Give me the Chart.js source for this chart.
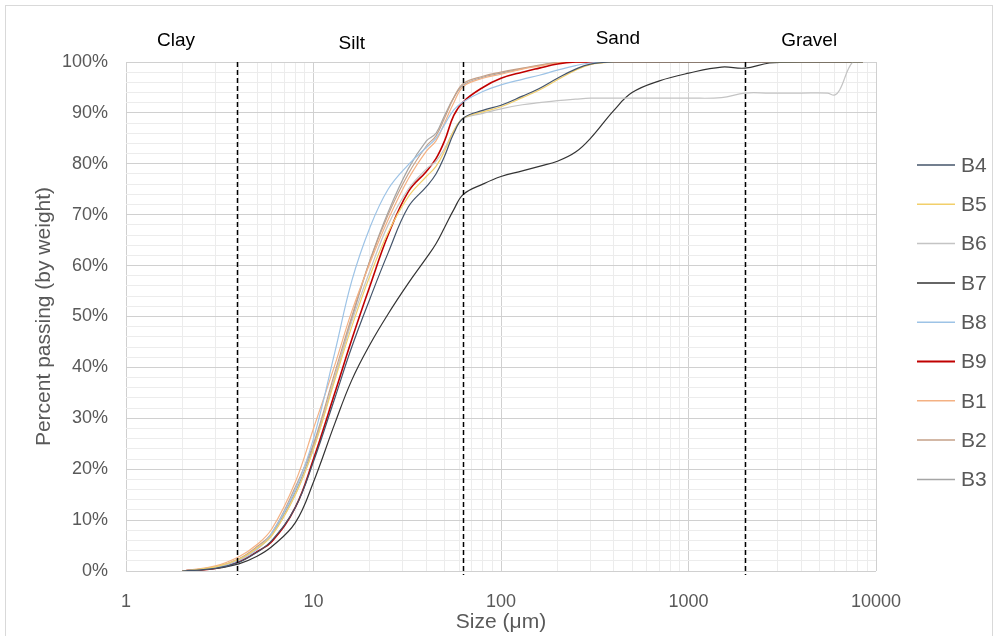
<!DOCTYPE html>
<html>
<head>
<meta charset="utf-8">
<script src="https://cdn.jsdelivr.net/npm/chart.js@4.4.0/dist/chart.umd.min.js"></script>
<style>
  html, body { margin: 0; padding: 0; background: #fff; }
  #wrap { width: 998px; height: 636px; position: relative; }
</style>
</head>
<body>
<div id="wrap"><canvas id="psdChart"></canvas></div>
<script>
// grain size (um) shared by all samples
const sizes = [2, 3, 4, 5, 6, 8, 10, 13, 16, 20, 25, 32, 40, 45, 50, 56, 63, 80, 100, 130, 160, 200, 250, 300, 400, 500, 700, 1000, 1500, 2000, 2700, 4000, 5500, 6000, 6400, 7500, 8500];

// percent passing for each sample
const b4 = [0, 0.5, 1.7, 3.7, 6, 12.5, 21.5, 34, 44, 53.5, 62.5, 71.5, 75.5, 78, 81.5, 86, 89, 90.5, 91.5, 93.3, 94.8, 96.8, 98.6, 99.6, 100, 100, 100, 100, 100, 100, 100, 100, 100, 100, 100, 100, 100];
const b5 = [0, 0.8, 2.3, 4.5, 7, 15, 24, 37.5, 48, 58, 66.5, 73.5, 77.5, 79.5, 82.5, 86.5, 89, 90.2, 91.2, 93, 94.5, 96.5, 98.4, 99.5, 100, 100, 100, 100, 100, 100, 100, 100, 100, 100, 100, 100, 100];
const b6 = [0, 0.7, 2.2, 4.4, 7, 15, 24, 38, 49, 59, 68, 75, 79, 80.5, 83, 86.5, 88.9, 89.9, 90.8, 91.6, 92, 92.4, 92.7, 92.9, 92.9, 92.9, 92.9, 92.9, 93, 93.9, 93.9, 93.9, 93.9, 93.5, 94.5, 100, 100];
const b7 = [0, 0.5, 1.4, 2.9, 4.8, 9.5, 17.5, 29, 37.5, 44.5, 50.5, 56.5, 61.5, 64.3, 67.5, 71, 74, 76, 77.5, 78.6, 79.5, 80.5, 82.3, 85, 90.5, 94, 96.3, 97.8, 99, 98.8, 99.8, 100, 100, 100, 100, 100, 100];
const b8 = [0, 0.6, 2, 4.2, 7.5, 16, 26, 43, 57, 67.5, 75, 79.8, 83.2, 85, 87.7, 90.6, 92.2, 94.2, 95.5, 96.6, 97.4, 98.4, 99.3, 99.8, 100, 100, 100, 100, 100, 100, 100, 100, 100, 100, 100, 100, 100];
const b9 = [0, 0.5, 1.8, 3.8, 5.8, 12.5, 22, 35, 45.5, 56, 66, 74.5, 78.5, 81, 84.5, 89.5, 92.2, 95, 96.8, 98, 98.8, 99.6, 100, 100, 100, 100, 100, 100, 100, 100, 100, 100, 100, 100, 100, 100, 100];
const b1 = [0, 1, 2.8, 5.2, 8.3, 17.5, 28, 40.5, 51, 60.5, 69, 77, 82.5, 84.5, 88, 92, 95.2, 96.8, 97.6, 98.6, 99.2, 99.8, 100, 100, 100, 100, 100, 100, 100, 100, 100, 100, 100, 100, 100, 100, 100];
const b2 = [0, 0.8, 2.4, 4.8, 7.5, 16.5, 25, 39, 50, 61, 70, 78, 83.5, 85.5, 89, 93, 95.8, 97.2, 98, 98.8, 99.4, 99.9, 100, 100, 100, 100, 100, 100, 100, 100, 100, 100, 100, 100, 100, 100, 100];
const b3 = [0, 0.7, 2.2, 4.5, 7.2, 15.5, 24.5, 38, 49.5, 61, 70.5, 79, 84.5, 86, 89.5, 93, 95.5, 97, 97.8, 98.7, 99.3, 99.9, 100, 100, 100, 100, 100, 100, 100, 100, 100, 100, 100, 100, 100, 100, 100];

const seriesNames = ['B4', 'B5', 'B6', 'B7', 'B8', 'B9', 'B1', 'B2', 'B3'];
const seriesValues = [b4, b5, b6, b7, b8, b9, b1, b2, b3];
const seriesColors = ['#44546a', '#f2cf6a', '#c4c4c4', '#333333', '#9dc3e6', '#c00000', '#f4b183', '#c4a088', '#a5a5a5'];

// class boundaries (um) and zone names
const boundaries = [3.9, 63, 2000];
const zoneNames = ['Clay', 'Silt', 'Sand', 'Gravel'];
const zoneLabelAt = [1.85, 16, 420, 4400];

const xMajor = [1, 10, 100, 1000, 10000];
const yTicks = [0, 10, 20, 30, 40, 50, 60, 70, 80, 90, 100];

const FONT = "'Liberation Sans', Arial, sans-serif";

const datasets = seriesNames.map((name, i) => ({
    label: name,
    data: sizes.map((s, k) => ({ x: s, y: seriesValues[i][k] })),
    borderColor: seriesColors[i],
    backgroundColor: seriesColors[i],
    borderWidth: name === 'B9' ? 1.6 : 1.2,
    pointRadius: 0,
    tension: 0.4,
    fill: false
}));

const extras = {
    id: 'extras',
    afterDatasetsDraw(chart) {
        const ctx = chart.ctx;
        const xs = chart.scales.x;
        const area = chart.chartArea;

        // dashed boundaries
        ctx.save();
        ctx.strokeStyle = '#000';
        ctx.lineWidth = 1.5;
        ctx.setLineDash([5, 3]);
        boundaries.forEach(b => {
            const px = Math.round(xs.getPixelForValue(b)) + 0.5;
            ctx.beginPath();
            ctx.moveTo(px, area.top);
            ctx.lineTo(px, area.bottom + 4);
            ctx.stroke();
        });
        ctx.restore();

        // zone names
        ctx.save();
        ctx.fillStyle = '#000';
        ctx.font = "19px " + FONT;
        ctx.textAlign = 'center';
        ctx.textBaseline = 'middle';
        const zoneY = [41, 44, 39, 41];
        zoneNames.forEach((z, i) => {
            ctx.fillText(z, xs.getPixelForValue(zoneLabelAt[i]), zoneY[i]);
        });
        ctx.restore();

        // legend
        ctx.save();
        ctx.font = "21px " + FONT;
        ctx.textBaseline = 'middle';
        ctx.fillStyle = '#595959';
        seriesNames.forEach((n, i) => {
            const y = 165 + i * 39.3;
            ctx.strokeStyle = seriesColors[i];
            ctx.lineWidth = n === 'B9' ? 2 : 1.5;
            ctx.beginPath();
            ctx.moveTo(917, y);
            ctx.lineTo(955, y);
            ctx.stroke();
            ctx.fillText(n, 961, y + 1);
        });
        ctx.restore();
    },
    afterDraw(chart) {
        const ctx = chart.ctx;
        ctx.save();
        ctx.strokeStyle = '#d9d9d9';
        ctx.lineWidth = 1;
        ctx.strokeRect(5.5, 5.5, 987, 640);
        ctx.restore();
    }
};

new Chart(document.getElementById('psdChart'), {
    type: 'line',
    data: { datasets },
    plugins: [extras],
    options: {
        responsive: true,
        maintainAspectRatio: false,
        animation: false,
        layout: { padding: { left: 0, top: 62, right: 122, bottom: 0 } },
        plugins: {
            legend: { display: false },
            tooltip: { enabled: false }
        },
        scales: {
            x: {
                type: 'logarithmic',
                min: 1,
                max: 10000,
                afterFit(scale) { scale.height = 65; },
                afterBuildTicks(scale) {
                    const t = [];
                    for (let p = 1; p < 10000; p *= 10) {
                        for (let m = 1; m < 10; m++) t.push({ value: m * p });
                    }
                    t.push({ value: 10000 });
                    scale.ticks = t;
                },
                grid: {
                    drawTicks: false,
                    color: c => xMajor.includes(c.tick && c.tick.value) ? '#d0d0d0' : '#ececec'
                },
                border: { display: false },
                ticks: {
                    autoSkip: false,
                    maxRotation: 0,
                    padding: 20,
                    color: '#595959',
                    font: { family: FONT, size: 18 },
                    callback: v => xMajor.includes(v) ? String(v) : ''
                },
                title: {
                    display: true,
                    text: 'Size (\u03bcm)',
                    color: '#595959',
                    font: { family: FONT, size: 21 },
                    padding: { top: 0, bottom: 1 }
                }
            },
            y: {
                min: 0,
                max: 100,
                afterFit(scale) { scale.width = 126; },
                afterBuildTicks(scale) {
                    const t = [];
                    for (let v = 0; v <= 100; v += 2) t.push({ value: v });
                    scale.ticks = t;
                },
                grid: {
                    drawTicks: false,
                    color: c => yTicks.includes(c.tick && c.tick.value) ? '#d0d0d0' : '#ececec'
                },
                border: { display: false },
                ticks: {
                    autoSkip: false,
                    padding: 18,
                    color: '#595959',
                    font: { family: FONT, size: 18 },
                    callback: v => yTicks.includes(v) ? v + '%' : ''
                },
                title: {
                    display: true,
                    text: 'Percent passing (by weight)',
                    color: '#595959',
                    font: { family: FONT, size: 21 },
                    padding: { top: 32, bottom: 0 }
                }
            }
        }
    }
});
</script>
</body>
</html>
